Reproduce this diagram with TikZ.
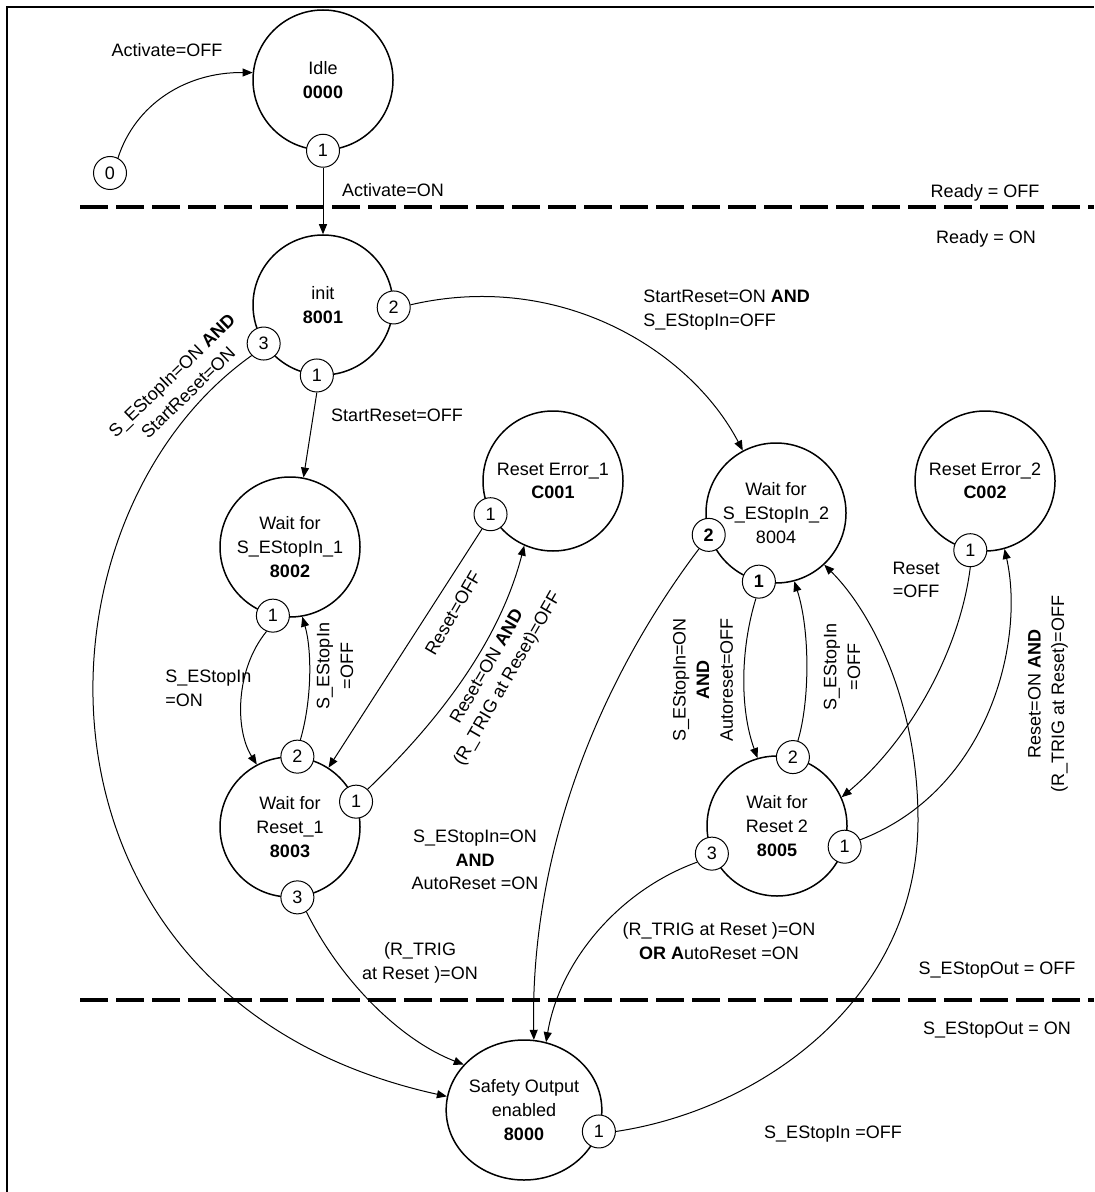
\documentclass[tikz,border=0pt]{standalone}
\usepackage{fontspec}
\setmainfont{Liberation Sans}
\usetikzlibrary{arrows.meta,shapes.geometric}

\begin{document}
\begin{tikzpicture}[x=0.5pt,y=0.5pt,
  every node/.style={font=\fontsize{9}{11.8}\selectfont, inner sep=0pt, align=center},
  state/.style={circle, draw, line width=0.75pt, minimum size=70pt},
  outstate/.style={ellipse, draw, line width=0.75pt, minimum width=62pt, minimum height=70pt},
  port/.style={circle, draw, line width=0.5pt, fill=white, minimum size=16.5pt},
  trans/.style={line width=0.5pt, -{Triangle[length=5pt,width=4pt]}},
  divider/.style={line width=2.2pt, dash pattern=on 14pt off 4pt},
]
\useasboundingbox (0,0) rectangle (1094,-1192);

% frame
\draw[line width=1pt] (7,-1192) -- (7,-7) -- (1094,-7);

% level separators
\draw[divider] (80,-207) -- (1094,-207);
\draw[divider] (80,-1000) -- (1094,-1000);

% states
\node[state] (idle) at (323,-80) {Idle\\\textbf{0000}};
\node[state] (init) at (323,-305) {init\\\textbf{8001}};
\node[state] (w1)   at (290,-547) {Wait for\\S\_EStopIn\_1\\\textbf{8002}};
\node[state] (wr1)  at (290,-827) {Wait for\\Reset\_1\\\textbf{8003}};
\node[state] (e1)   at (553,-481) {Reset Error\_1\\\textbf{C001}};
\node[state] (w2)   at (776,-513) {Wait for\\S\_EStopIn\_2\\8004};
\node[state] (wr2)  at (777,-826) {Wait for\\Reset 2\\\textbf{8005}};
\node[state] (e2)   at (985,-481) {Reset Error\_2\\\textbf{C002}};
\node[outstate] (safe) at (524,-1110) {Safety Output\\enabled\\\textbf{8000}};

% exit ports
\node[port] (start0) at (110,-173) {0};
\node[port] (idle1) at (idle.-90) {1};
\node[port] (init1) at (init.-95) {1};
\node[port] (init2) at (init.-2) {2};
\node[port] (init3) at (init.213) {3};
\node[port] (w1p1) at (w1.-104) {1};
\node[port] (wr1p1) at (wr1.21) {1};
\node[port] (wr1p2) at (wr1.84) {2};
\node[port] (wr1p3) at (wr1.-84) {3};
\node[port] (e1p1) at (e1.-152) {1};
\node[port] (w2p1) at (w2.-104) {\textbf{1}};
\node[port] (w2p2) at (w2.198) {\textbf{2}};
\node[port] (wr2p1) at (wr2.-17) {1};
\node[port] (wr2p2) at (wr2.77) {2};
\node[port] (wr2p3) at (wr2.203) {3};
\node[port] (e2p1) at (e2.-102) {1};
\node[port] (safe1) at (safe.-16) {1};

\coordinate (loopR) at (918,-820);

% transitions
\draw[trans] (start0.62) .. controls (135,-105) and (185,-72) .. (idle.174);
\draw[trans] (idle1.south) -- (init.north);
\draw[trans] (init1.south) -- (w1.79);
\draw[trans] (init2.9) .. controls (560,-270) and (690,-350) .. (w2.118);
\draw[trans] (init3.-135) .. controls (20,-520) and (10,-1000) .. (safe.170);
\draw[trans] (w1p1.-112) .. controls (235,-670) and (235,-730) .. (wr1.118);
\draw[trans] (wr1p2.80) .. controls (312,-700) and (312,-650) .. (w1.-80);
\draw[trans] (e1p1.-120) -- (wr1.57);
\draw[trans] (wr1p1.47) .. controls (440,-720) and (500,-640) .. (e1.-114);
\draw[trans] (wr1p3.-58) .. controls (340,-980) and (400,-1040) .. (safe.143);
\draw[trans] (w2p2.-125) .. controls (600,-680) and (530,-850) .. (safe.82);
\draw[trans] (w2p1.-100) .. controls (740,-650) and (740,-710) .. (wr2.106);
\draw[trans] (wr2p2.73) .. controls (810,-700) and (810,-630) .. (w2.-75);
\draw[trans] (e2p1.south) .. controls (960,-650) and (910,-740) .. (wr2.24);
\draw[trans] (wr2p1.24) .. controls (990,-790) and (1025,-640) .. (e2.-74);
\draw[trans] (wr2p3.-150) .. controls (620,-890) and (560,-960) .. (safe.72);
\draw[trans] (safe1.east) .. controls (760,-1110) and (918,-1000) .. (loopR)
  .. controls (918,-700) and (870,-610) .. (w2.-47);

% transition conditions
\node (lActOff) at (167,-50) {Activate=OFF};
\node (lActOn) at (393,-190) {Activate=ON};
\node (lRdyOff) at (985,-193) {Ready = OFF};
\node (lRdyOn) at (986,-239) {Ready = ON};
\node (lSR0) at (397,-415) {StartReset=OFF};
\node[anchor=west, align=left] (lSR1) at (643,-310) {StartReset=ON \textbf{AND}\\S\_EStopIn=OFF};
\node[rotate=44] (lSRon) at (180,-384) {S\_EStopIn=ON \textbf{AND}\\StartReset=ON};
\node[anchor=west, align=left] (lEon1) at (165,-688) {S\_EStopIn\\=ON};
\node[rotate=90] (lEoff1) at (335,-666) {S\_EStopIn\\=OFF};
\node[rotate=60] (lRoff1) at (453,-613) {Reset=OFF};
\node[rotate=60] (lRon1) at (498,-673) {Reset=ON \textbf{AND}\\(R\_TRIG at Reset)=OFF};
\node[rotate=90] (lEon2) at (703,-680) {S\_EStopIn=ON\\\textbf{AND}\\Autoreset=OFF};
\node[rotate=90] (lEoff2) at (842,-667) {S\_EStopIn\\=OFF};
\node (lRoff2) at (916,-580) {Reset\\=OFF};
\node[rotate=90] (lRon2) at (1048,-694) {Reset=ON \textbf{AND}\\(R\_TRIG at Reset)=OFF};
\node (lAuto) at (475,-860) {S\_EStopIn=ON\\\textbf{AND}\\AutoReset =ON};
\node (lRtrig1) at (420,-963) {(R\_TRIG\\at Reset )=ON};
\node (lRtrig2) at (719,-941) {(R\_TRIG at Reset )=ON\\\textbf{OR A}utoReset =ON};
\node (lOutOff) at (997,-970) {S\_EStopOut = OFF};
\node (lOutOn) at (997,-1030) {S\_EStopOut = ON};
\node (lEoff3) at (833,-1134) {S\_EStopIn =OFF};
\end{tikzpicture}
\end{document}
